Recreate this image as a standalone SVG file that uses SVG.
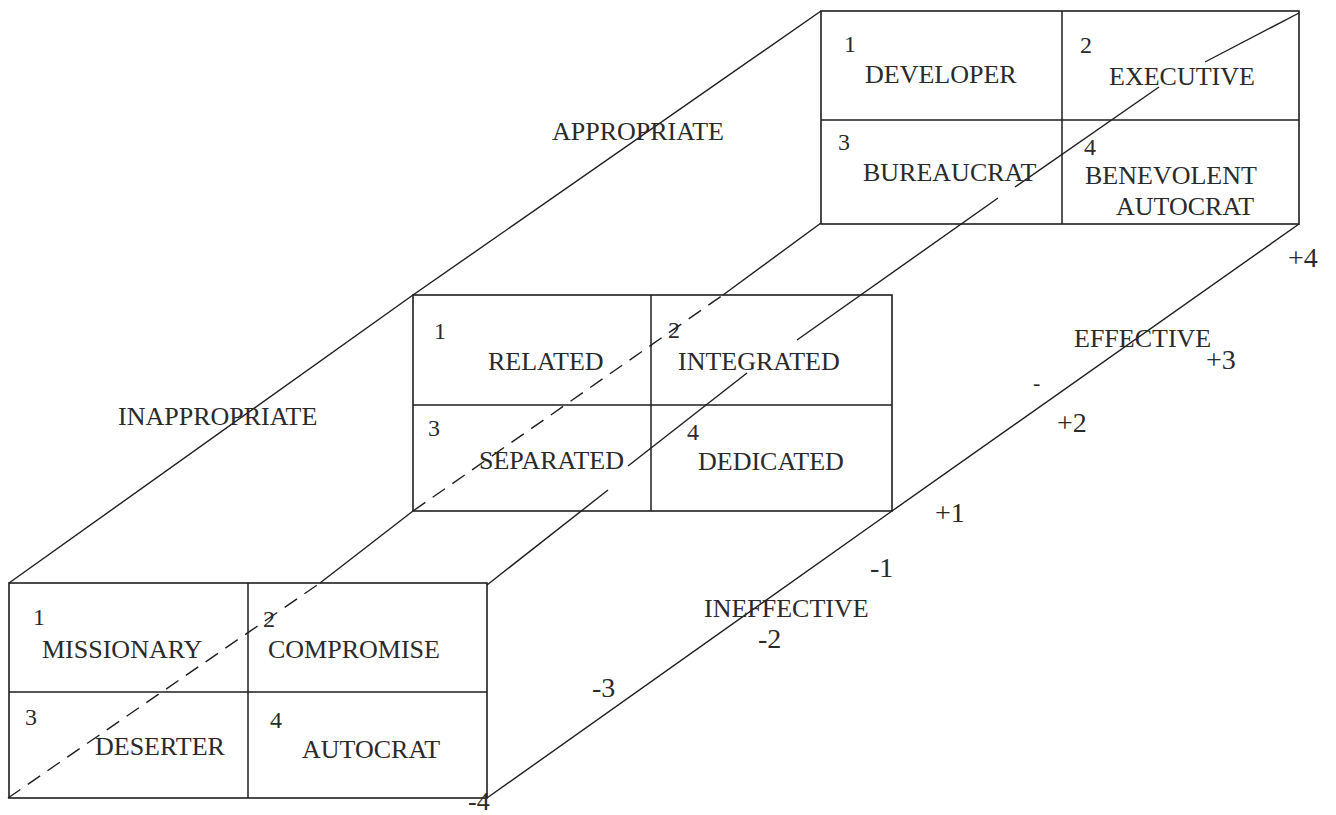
<svg xmlns="http://www.w3.org/2000/svg" width="1336" height="815" viewBox="0 0 1336 815">
<style>
.bg{fill:#fff}
.box{fill:none;stroke:#1e1e1e;stroke-width:1.6}
.div{stroke:#1e1e1e;stroke-width:1.5}
.edge{fill:none;stroke:#1e1e1e;stroke-width:1.4}
.dash{fill:none;stroke:#1e1e1e;stroke-width:1.4;stroke-dasharray:15 9}
.t{font-family:"Liberation Serif","Times New Roman",serif;font-size:26px;fill:#2a2a2a}
.n{font-family:"Liberation Serif","Times New Roman",serif;font-size:24px;fill:#2a2a2a}
.a{font-family:"Liberation Serif","Times New Roman",serif;font-size:28px;fill:#2a2a2a}
</style>
<rect class="bg" x="0" y="0" width="1336" height="815"/>
<g id="connectors">
  <polyline class="edge" points="9,583 413,295 821,11"/>
  <polyline class="edge" points="487,798 892,511 1299,224"/>
  <line class="dash" x1="8" y1="798" x2="320" y2="583"/>
  <line class="edge" x1="320" y1="583" x2="413" y2="511"/>
  <line class="dash" x1="413" y1="511" x2="723" y2="295"/>
  <line class="edge" x1="723" y1="295" x2="821" y2="223"/>
  <line class="edge" x1="487" y1="585" x2="608" y2="490"/>
  <line class="edge" x1="628" y1="466" x2="747" y2="373"/>
  <line class="edge" x1="797" y1="340" x2="998" y2="198"/>
  <line class="edge" x1="1015" y1="187" x2="1159" y2="87"/>
  <line class="edge" x1="1205" y1="62" x2="1299" y2="13"/>
</g>
<g id="box-top">
  <rect class="box" x="821" y="11" width="478" height="213"/>
  <line class="div" x1="1062" y1="11" x2="1062" y2="224"/>
  <line class="div" x1="821" y1="120" x2="1299" y2="120"/>
  <text class="n" x="844" y="52">1</text>
  <text class="t" x="865" y="83">DEVELOPER</text>
  <text class="n" x="1080" y="53">2</text>
  <text class="t" x="1109" y="85">EXECUTIVE</text>
  <text class="n" x="838" y="150">3</text>
  <text class="t" x="863" y="181">BUREAUCRAT</text>
  <text class="n" x="1084" y="155">4</text>
  <text class="t" x="1085" y="184">BENEVOLENT</text>
  <text class="t" x="1116" y="215">AUTOCRAT</text>
</g>
<g id="box-middle">
  <rect class="box" x="413" y="295" width="479" height="216"/>
  <line class="div" x1="651" y1="295" x2="651" y2="511"/>
  <line class="div" x1="413" y1="405" x2="892" y2="405"/>
  <text class="n" x="434" y="339">1</text>
  <text class="t" x="488" y="370">RELATED</text>
  <text class="n" x="668" y="338">2</text>
  <text class="t" x="678" y="370">INTEGRATED</text>
  <text class="n" x="428" y="436">3</text>
  <text class="t" x="479" y="469">SEPARATED</text>
  <text class="n" x="687" y="440">4</text>
  <text class="t" x="698" y="470">DEDICATED</text>
</g>
<g id="box-bottom">
  <rect class="box" x="9" y="583" width="478" height="215"/>
  <line class="div" x1="248" y1="583" x2="248" y2="798"/>
  <line class="div" x1="9" y1="692" x2="487" y2="692"/>
  <text class="n" x="33" y="625">1</text>
  <text class="t" x="42" y="658">MISSIONARY</text>
  <text class="n" x="263" y="627">2</text>
  <text class="t" x="268" y="658">COMPROMISE</text>
  <text class="n" x="25" y="725">3</text>
  <text class="t" x="95" y="755">DESERTER</text>
  <text class="n" x="270" y="728">4</text>
  <text class="t" x="302" y="758">AUTOCRAT</text>
</g>
<g id="labels">
  <text class="t" x="552" y="140">APPROPRIATE</text>
  <text class="t" x="118" y="425">INAPPROPRIATE</text>
  <text class="t" x="1074" y="347">EFFECTIVE</text>
  <text class="t" x="704" y="617">INEFFECTIVE</text>
  <text class="a" x="1288" y="267">+4</text>
  <text class="a" x="1206" y="369">+3</text>
  <text class="a" x="1033" y="390" style="font-size:22px">-</text>
  <text class="a" x="1057" y="432">+2</text>
  <text class="a" x="935" y="522">+1</text>
  <text class="a" x="870" y="577">-1</text>
  <text class="a" x="758" y="648">-2</text>
  <text class="a" x="592" y="697">-3</text>
  <text class="a" x="468" y="810" style="font-size:26px">-4</text>
</g>
</svg>
